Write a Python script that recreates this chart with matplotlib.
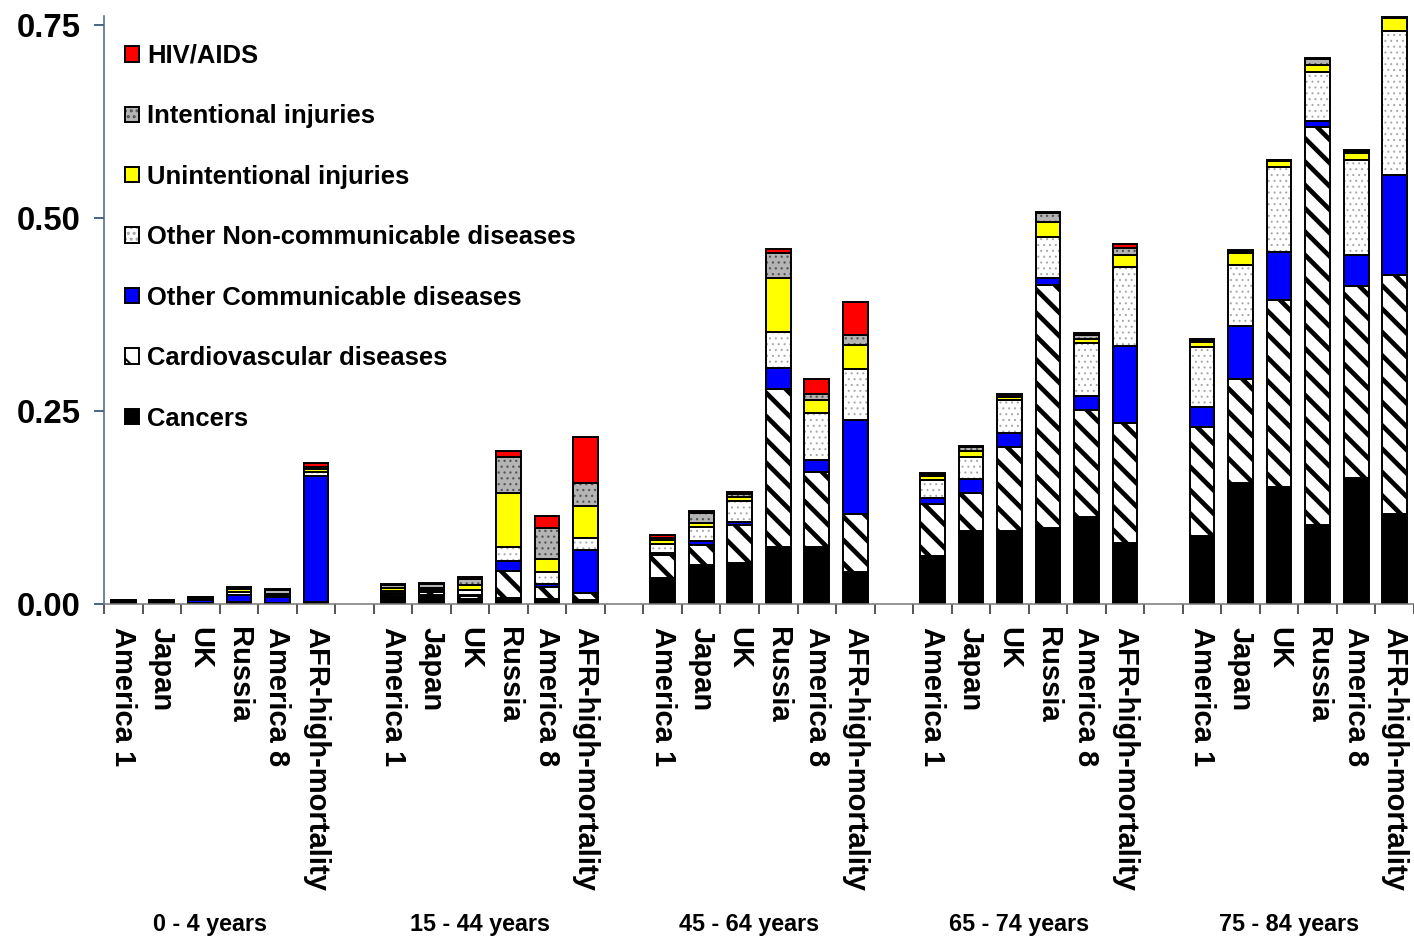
import numpy as np
import matplotlib
matplotlib.use('Agg')
import matplotlib.pyplot as plt
from matplotlib.patches import Patch
from matplotlib.legend_handler import HandlerTuple
import matplotlib.transforms as mtransforms

plt.rcParams['font.family'] = ['Liberation Sans', 'DejaVu Sans']
plt.rcParams['font.weight'] = 'bold'

age_groups = ['0 - 4 years', '15 - 44 years', '45 - 64 years', '65 - 74 years', '75 - 84 years']
regions = ['America 1', 'Japan', 'UK', 'Russia', 'America 8', 'AFR-high-mortality']

# death rates by cause, 6 regions per age group, groups in order
cancers = [0.002, 0.002, 0.001, 0.001, 0.001, 0.002,
           0.010, 0.012, 0.006, 0.008, 0.007, 0.005,
           0.034, 0.050, 0.053, 0.074, 0.074, 0.042,
           0.062, 0.095, 0.095, 0.098, 0.113, 0.079,
           0.088, 0.157, 0.152, 0.102, 0.163, 0.117]
cardio = [0.001, 0.001, 0.0005, 0.001, 0.0005, 0.001,
          0.003, 0.003, 0.004, 0.035, 0.015, 0.009,
          0.029, 0.027, 0.049, 0.205, 0.097, 0.075,
          0.067, 0.049, 0.109, 0.316, 0.138, 0.155,
          0.141, 0.134, 0.242, 0.516, 0.249, 0.309]
other_comm = [0.0005, 0.0005, 0.004, 0.010, 0.008, 0.163,
              0.001, 0.001, 0.002, 0.013, 0.004, 0.056,
              0.003, 0.005, 0.004, 0.027, 0.015, 0.122,
              0.008, 0.018, 0.017, 0.009, 0.019, 0.100,
              0.026, 0.069, 0.062, 0.008, 0.040, 0.130]
other_ncd = [0.0005, 0.0005, 0.001, 0.004, 0.002, 0.005,
             0.003, 0.002, 0.006, 0.018, 0.016, 0.016,
             0.012, 0.018, 0.028, 0.047, 0.061, 0.065,
             0.024, 0.029, 0.044, 0.052, 0.068, 0.103,
             0.078, 0.079, 0.110, 0.063, 0.123, 0.187]
unintentional = [0.0005, 0.0005, 0.001, 0.003, 0.002, 0.004,
                 0.004, 0.003, 0.007, 0.070, 0.016, 0.041,
                 0.005, 0.005, 0.005, 0.070, 0.018, 0.031,
                 0.005, 0.007, 0.003, 0.020, 0.006, 0.015,
                 0.007, 0.016, 0.008, 0.009, 0.010, 0.016]
intentional = [0.0005, 0.0005, 0.001, 0.002, 0.004, 0.002,
               0.004, 0.005, 0.008, 0.046, 0.040, 0.030,
               0.003, 0.013, 0.004, 0.032, 0.007, 0.014,
               0.002, 0.005, 0.002, 0.012, 0.004, 0.009,
               0.002, 0.003, 0.001, 0.008, 0.002, 0.001]
hiv = [0.0, 0.0, 0.0, 0.001, 0.0015, 0.006,
       0.001, 0.001, 0.002, 0.008, 0.016, 0.059,
       0.003, 0.002, 0.002, 0.005, 0.019, 0.042,
       0.002, 0.002, 0.002, 0.001, 0.003, 0.005,
       0.001, 0.001, 0.001, 0.002, 0.001, 0.001]

# name, values, face, hatch, hatch colour, hatch linewidth
causes = [
    ('Cancers', cancers, 'black', None, 'black', 1.0),
    ('Cardiovascular diseases', cardio, 'white', '\\\\', 'black', 2.4),
    ('Other Communicable diseases', other_comm, '#0000ff', None, '#0000ff', 1.0),
    ('Other Non-communicable diseases', other_ncd, 'white', '....', '#a8a8a8', 0.5),
    ('Unintentional injuries', unintentional, '#ffff00', None, '#ffff00', 1.0),
    ('Intentional injuries', intentional, '#b4b4b4', '....', '#555555', 0.6),
    ('HIV/AIDS', hiv, '#ff0000', None, '#ff0000', 1.0),
]

# one empty slot between age groups
x = np.array([g * 7 + r for g in range(len(age_groups)) for r in range(len(regions))])
width = 0.64

fig = plt.figure(figsize=(1414 / 140, 940 / 140), dpi=140)
ax = fig.add_axes([104 / 1414, 1 - 604 / 940, 1310 / 1414, 588 / 940])

bottom = np.zeros(len(x))
handles = []
for name, vals, face, hatch, hcol, hlw in causes:
    vals = np.array(vals)
    fill = ax.bar(x, vals, width, bottom=bottom, color=face, edgecolor=hcol,
                  hatch=hatch, linewidth=0)
    for p in fill:
        if hasattr(p, 'set_hatch_linewidth'):
            p.set_hatch_linewidth(hlw)
    ax.bar(x, vals, width, bottom=bottom, fill=False, edgecolor='black', linewidth=1.0)
    bottom += vals
    hp = Patch(facecolor=face, edgecolor=hcol, hatch=hatch, linewidth=0)
    if hasattr(hp, 'set_hatch_linewidth'):
        hp.set_hatch_linewidth(min(hlw, 1.2))
    handles.append((hp, Patch(facecolor='none', edgecolor='black', linewidth=1.0)))

ax.set_xlim(-0.5, 33.29)
ax.set_ylim(0, 0.762)

for s in ['top', 'right']:
    ax.spines[s].set_visible(False)
ax.spines['left'].set_color('#4a6484')
ax.spines['bottom'].set_color('#7a7a7a')

ax.set_yticks([0, 0.25, 0.5, 0.75])
ax.set_yticklabels(['0.00', '0.25', '0.50', '0.75'], fontsize=17, fontweight='bold')
ax.tick_params(axis='y', direction='out', length=5, width=1, color='#4a6484', pad=7)

ax.set_xticks(np.arange(-0.5, 34, 1))
ax.set_xticklabels([])
ax.tick_params(axis='x', which='major', direction='out', length=5, width=1, color='#555555')
ax.set_xticks(x, minor=True)
ax.set_xticklabels(regions * len(age_groups), minor=True, rotation=-90,
                   fontsize=15, fontweight='bold', va='top', ha='center')
ax.tick_params(axis='x', which='minor', length=0, pad=12)

trans = mtransforms.blended_transform_factory(ax.transData, fig.transFigure)
for g, label in enumerate(age_groups):
    ax.text(g * 7 + 2.25, 0.016, label, transform=trans, ha='center', va='center',
            fontsize=12, fontweight='bold', clip_on=False)

leg = ax.legend(handles[::-1], [c[0] for c in causes][::-1],
                handler_map={tuple: HandlerTuple(ndivide=1)},
                loc='upper left', bbox_to_anchor=(0.008, 0.97), frameon=False,
                prop={'size': 13.2, 'weight': 'bold'}, handlelength=0.55, handleheight=0.55,
                handletextpad=0.32, labelspacing=1.42, borderaxespad=0)

fig.savefig('out.png', dpi=140)
